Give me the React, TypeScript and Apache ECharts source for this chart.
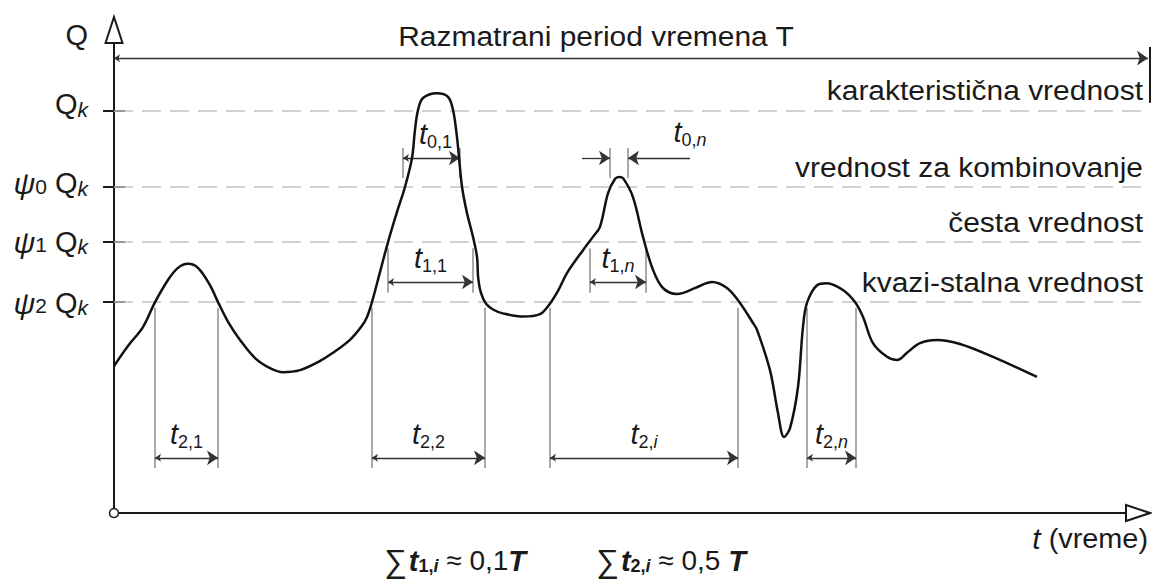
import React, { useEffect, useRef } from 'react';
import * as echarts from 'echarts';

// ---------- data ----------
const T_MAX = 100; // period T
const Q_MAX = 120;

const curveT = [0, 1.35, 2.8, 3.97, 5.22, 6.19, 7.16, 8.12, 9.28, 10.06, 11.03, 12.19, 13.64, 15.09, 16.34, 17.99, 19.73, 21.18, 22.82, 23.98, 24.47, 24.95, 25.73, 26.5, 27.37, 28.14, 28.82, 29.11, 29.4, 29.88, 31.24, 32.3, 32.79, 33.17, 33.37, 33.66, 34.14, 34.72, 35.11, 35.22, 35.5, 36.0, 36.7, 37.6, 39.56, 41.2, 42.07, 42.94, 43.81, 45.36, 46.32, 47.0, 47.78, 48.45, 48.84, 49.23, 50.19, 51.16, 52.13, 53.09, 54.45, 56.38, 57.83, 59.28, 60.54, 61.8, 62.19, 63.44, 64.22, 64.8, 65.38, 66.15, 66.63, 67.02, 67.99, 68.96, 70.5, 71.66, 72.44, 73.4, 74.76, 75.73, 76.69, 77.95, 79.59, 81.82, 85.01, 89.26];
const curveQ = [36.5, 41.5, 46.2, 52.4, 57.9, 60.9, 61.9, 60.9, 56.6, 52.4, 47.5, 43.0, 38.5, 36.0, 35.0, 35.5, 37.5, 39.8, 43.0, 46.5, 48.7, 52.4, 59.9, 67.3, 74.8, 81.0, 88.2, 95.2, 100.1, 103.1, 104.3, 103.4, 100.1, 93.4, 88.2, 81.0, 74.5, 68.6, 63.6, 58.5, 54.6, 51.9, 50.5, 49.6, 48.8, 49.4, 51.7, 55.2, 59.6, 65.3, 68.6, 71.1, 79.5, 83.0, 83.5, 83.2, 78.5, 68.6, 60.4, 55.9, 54.4, 56.1, 57.4, 55.9, 52.2, 47.2, 45.5, 35.5, 24.8, 18.9, 21.1, 31.3, 46.2, 52.2, 56.6, 57.1, 55.4, 52.4, 48.7, 42.2, 38.8, 38.0, 39.8, 42.2, 43.0, 42.0, 38.8, 33.8];

const levelValues = [100, 81, 67.3, 52.4];
const levelNames = ['karakteristična vrednost', 'vrednost za kombinovanje', 'česta vrednost', 'kvazi-stalna vrednost'];
const levelPsi = ['', '0', '1', '2'];

const t2Labels = ['2,1', '2,2', '2,i', '2,n'];
const t2Start = [3.97, 24.95, 42.17, 67.02];
const t2End = [10.06, 35.88, 60.35, 71.76];
const t1Labels = ['1,1', '1,n'];
const t1Start = [26.5, 46.03];
const t1End = [34.72, 51.45];
const t0Labels = ['0,1', '0,n'];
const t0Start = [27.95, 47.97];
const t0End = [33.46, 49.71];
const t0nOuter = [45.26, 55.71];

// dimension line levels (Q units): [top of witness line, bottom, arrow line]
const t2Dim = [51, 11.2, 13.7];
const t1Dim = [65.8, 54.7, 57.4];
const t0Dim = [90.7, 83.2, 88.2];
const periodQ = 113;
const periodTick = [115.8, 101.9];
const tickHalf = 1.06;

const FONT = "'Liberation Sans', Arial, Helvetica, sans-serif";
const INK = '#1a1a1a';
const SX = 1.07;

export default function App() {
  const ref = useRef<HTMLDivElement>(null);
  useEffect(() => {
    const chart = echarts.init(ref.current!, null, { renderer: 'svg' });
    const curve = curveT.map((t, i) => [t, curveQ[i]]);
    const seg = (a: number[], b: number[]) => ({ coords: [a, b] });

    const witness: any[] = [];
    t2Start.forEach((s, i) => {
      witness.push(seg([s, t2Dim[0]], [s, t2Dim[1]]));
      witness.push(seg([t2End[i], t2Dim[0]], [t2End[i], t2Dim[1]]));
    });
    t1Start.forEach((s, i) => {
      witness.push(seg([s, t1Dim[0]], [s, t1Dim[1]]));
      witness.push(seg([t1End[i], t1Dim[0]], [t1End[i], t1Dim[1]]));
    });
    t0Start.forEach((s, i) => {
      witness.push(seg([s, t0Dim[0]], [s, t0Dim[1]]));
      witness.push(seg([t0End[i], t0Dim[0]], [t0End[i], t0Dim[1]]));
    });
    const dims = [
      ...t2Start.map((s, i) => seg([s, t2Dim[2]], [t2End[i], t2Dim[2]])),
      ...t1Start.map((s, i) => seg([s, t1Dim[2]], [t1End[i], t1Dim[2]])),
      seg([t0Start[0], t0Dim[2]], [t0End[0], t0Dim[2]]),
      seg([0, periodQ], [T_MAX, periodQ]),
    ];
    const outer = [
      seg([t0nOuter[0], t0Dim[2]], [t0Start[1], t0Dim[2]]),
      seg([t0nOuter[1], t0Dim[2]], [t0End[1], t0Dim[2]]),
    ];
    const plain = [
      ...levelValues.map((v) => seg([-tickHalf, v], [tickHalf, v])),
      seg([T_MAX + 0.2, periodTick[0]], [T_MAX + 0.2, periodTick[1]]),
    ];

    chart.setOption({
      animation: false,
      grid: { left: 114, right: 4, top: 30, bottom: 67 },
      xAxis: {
        type: 'value', min: 0, max: T_MAX,
        axisLine: { show: true, lineStyle: { color: INK, width: 2 } },
        axisTick: { show: false }, axisLabel: { show: false }, splitLine: { show: false },
      },
      yAxis: {
        type: 'value', min: 0, max: Q_MAX,
        axisLine: { show: true, lineStyle: { color: INK, width: 2 } },
        axisTick: { show: false }, axisLabel: { show: false }, splitLine: { show: false },
      },
      series: [
        {
          type: 'line', data: curve, smooth: 0.35, showSymbol: false, silent: true,
          lineStyle: { color: '#111', width: 2.5 }, z: 5,
          markLine: {
            silent: true, symbol: ['none', 'none'], label: { show: false },
            lineStyle: { type: [19, 9], color: '#c2c2c2', width: 1.5 },
            data: levelValues.map((v) => ({ yAxis: v })),
          },
        },
        {
          type: 'lines', coordinateSystem: 'cartesian2d', clip: false, silent: true,
          lineStyle: { color: '#8c8c8c', width: 1.5, opacity: 1 }, symbol: ['none', 'none'],
          data: witness, z: 3,
        },
        {
          type: 'lines', coordinateSystem: 'cartesian2d', clip: false, silent: true,
          lineStyle: { color: '#333', width: 1.3, opacity: 1 }, symbol: ['arrow', 'arrow'], symbolSize: [6, 11],
          data: dims, z: 4,
        },
        {
          type: 'lines', coordinateSystem: 'cartesian2d', clip: false, silent: true,
          lineStyle: { color: '#333', width: 1.3, opacity: 1 }, symbol: ['none', 'arrow'], symbolSize: [6, 11],
          data: outer, z: 4,
        },
        {
          type: 'lines', coordinateSystem: 'cartesian2d', clip: false, silent: true,
          lineStyle: { color: INK, width: 2, opacity: 1 }, symbol: ['none', 'none'],
          data: plain, z: 4,
        },
      ],
    });

    const P = (t: number, q: number) => chart.convertToPixel({ gridIndex: 0 } as any, [t, q]) as number[];
    const base = { fontFamily: FONT, fill: INK };
    const mk = (lh: number, subPad: number) => ({
      q: { ...base, fontSize: 29, lineHeight: lh, verticalAlign: 'top' },
      n: { ...base, fontSize: 28, lineHeight: lh, verticalAlign: 'top' },
      psi: { ...base, fontSize: 30, fontStyle: 'italic', lineHeight: lh, verticalAlign: 'top' },
      d: { ...base, fontSize: 21, lineHeight: lh, verticalAlign: 'top', padding: [7, 0, 0, 0] },
      k: { ...base, fontSize: 21, fontStyle: 'italic', lineHeight: lh, verticalAlign: 'top', padding: [9, 0, 0, 0] },
      t: { ...base, fontSize: 29, fontStyle: 'italic', lineHeight: lh, verticalAlign: 'top' },
      s: { ...base, fontSize: 18, lineHeight: lh, verticalAlign: 'top', padding: [subPad, 0, 0, 0] },
      si: { ...base, fontSize: 18, fontStyle: 'italic', lineHeight: lh, verticalAlign: 'top', padding: [subPad, 0, 0, 0] },
      sig: { ...base, fontSize: 32, lineHeight: lh, verticalAlign: 'middle', padding: [0, 2, 0, 0] },
      bt: { ...base, fontSize: 29, fontStyle: 'italic', fontWeight: 'bold', lineHeight: lh, verticalAlign: 'top' },
      bs: { ...base, fontSize: 18, fontWeight: 'bold', lineHeight: lh, verticalAlign: 'top', padding: [subPad, 0, 0, 0] },
      bsi: { ...base, fontSize: 18, fontStyle: 'italic', fontWeight: 'bold', lineHeight: lh, verticalAlign: 'top', padding: [subPad, 0, 0, 0] },
    });
    const rich = mk(34, 13);
    const richF = mk(29, 11);
    const sub = (lab: string) => {
      const [a, b] = lab.split(',');
      return /[a-z]/.test(b) ? `{s|${a},}{si|${b}}` : `{s|${a},${b}}`;
    };
    const rtext = (text: string, x: number, yTop: number, align: string, r: any = rich, sx = 1) => ({
      type: 'text', z: 50, silent: true, x, y: yTop, scaleX: sx,
      style: { text, x: 0, y: 0, align, verticalAlign: 'top', rich: r, ...base, fontSize: 28 },
    });
    const ptext = (text: string, x: number, y: number, align: string, size = 28, sx = SX) => ({
      type: 'text', z: 50, silent: true, x, y, scaleX: sx,
      style: { text, x: 0, y: 0, align, verticalAlign: 'middle', ...base, fontSize: size },
    });

    const g: any[] = [];
    const origin = P(0, 0);
    const top = P(0, Q_MAX);
    const right = P(T_MAX, 0);
    // axis arrows
    g.push({ type: 'polygon', z: 60, shape: { points: [[top[0] - 8.5, top[1] + 13], [top[0], top[1] - 13], [top[0] + 8.5, top[1] + 13]] }, style: { fill: '#fff', stroke: INK, lineWidth: 2 } });
    g.push({ type: 'polygon', z: 60, shape: { points: [[right[0] - 22, right[1] - 8], [right[0] + 2, right[1]], [right[0] - 22, right[1] + 8]] }, style: { fill: '#fff', stroke: INK, lineWidth: 2 } });
    g.push({ type: 'circle', z: 60, shape: { cx: origin[0], cy: origin[1], r: 4.5 }, style: { fill: '#fff', stroke: INK, lineWidth: 1.5 } });

    // axis titles
    g.push(ptext('Q', 88, 35, 'right', 29, 1));
    g.push(ptext('Razmatrani period vremena T', 596, 36, 'center', 28));
    g.push(rtext('{t|t}{n| (vreme)}', 1148, 524, 'right', rich, 1.03));

    // level labels
    const rowOff = [-7, -4, -1, 0];
    levelValues.forEach((v, i) => {
      const y = P(0, v)[1];
      const txt = levelPsi[i] ? `{psi|ψ}{d|${levelPsi[i]}}{q| Q}{k|k}` : '{q|Q}{k|k}';
      g.push(rtext(txt, 88, y + rowOff[i] - 14, 'right'));
      g.push(ptext(levelNames[i], 1143, y - 20, 'right', 28));
    });

    // dimension labels
    const dimLabel = (lab: string, x: number, arrowQ: number) => {
      const y = P(0, arrowQ)[1];
      g.push(rtext(`{t|t}${sub(lab)}`, x, y - 24 - 14, 'center'));
    };
    t2Labels.forEach((l, i) => dimLabel(l, (P(t2Start[i], 0)[0] + P(t2End[i], 0)[0]) / 2, t2Dim[2]));
    t1Labels.forEach((l, i) => dimLabel(l, (P(t1Start[i], 0)[0] + P(t1End[i], 0)[0]) / 2, t1Dim[2]));
    dimLabel(t0Labels[0], (P(t0Start[0], 0)[0] + P(t0End[0], 0)[0]) / 2 + 4, t0Dim[2]);
    dimLabel(t0Labels[1], P(t0nOuter[1], 0)[0], t0Dim[2] + 0.6);

    // formulas
    g.push(rtext('{sig|∑}{bt|t}{bs|1,}{bsi|i}{n| ≈ 0,1}{bt|T}', 455, 546, 'center', richF));
    g.push(rtext('{sig|∑}{bt|t}{bs|2,}{bsi|i}{n| ≈ 0,5 }{bt|T}', 671, 546, 'center', richF));

    chart.setOption({ graphic: { elements: g } });

    return () => chart.dispose();
  }, []);
  return <div ref={ref} style={{ position: 'fixed', left: 0, top: 0, width: 1152, height: 580, background: '#fff' }} />;
}
